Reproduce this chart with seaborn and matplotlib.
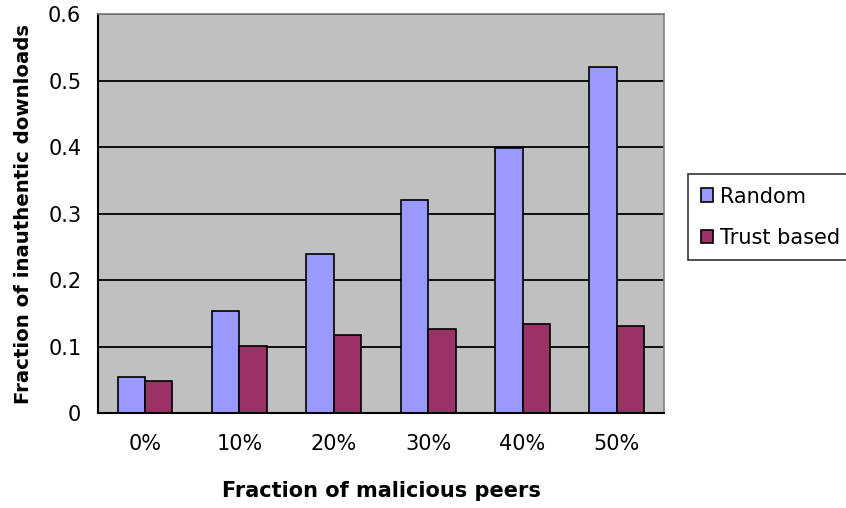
import matplotlib
matplotlib.use("Agg")
import matplotlib.pyplot as plt
import numpy as np
import pandas as pd
import seaborn as sns

# Fraction of inauthentic downloads by share of malicious peers
categories = ["0%", "10%", "20%", "30%", "40%", "50%"]
random_vals = [0.054, 0.153, 0.239, 0.321, 0.398, 0.520]
trust_vals = [0.048, 0.101, 0.117, 0.127, 0.134, 0.131]
series_names = ["Random", "Trust based"]
y_ticks = [0, 0.1, 0.2, 0.3, 0.4, 0.5, 0.6]
y_tick_labels = ["0", "0.1", "0.2", "0.3", "0.4", "0.5", "0.6"]

df = pd.DataFrame({
    "peers": categories * 2,
    "value": random_vals + trust_vals,
    "method": [series_names[0]] * len(categories) + [series_names[1]] * len(categories),
})

sns.set_style("white")
plt.rcParams["font.family"] = ["DejaVu Sans"]
plt.rcParams.update({
    "text.color": "black",
    "axes.labelcolor": "black",
    "xtick.color": "black",
    "ytick.color": "black",
    "xtick.labelcolor": "black",
    "ytick.labelcolor": "black",
})

fig = plt.figure(figsize=(8.46, 5.08), dpi=100)
ax = fig.add_axes([0.1158, 0.187, 0.7849 - 0.1158, 0.9724 - 0.187])
ax.set_facecolor("#C0C0C0")

sns.barplot(data=df, x="peers", y="value", hue="method", order=categories,
            hue_order=series_names, palette=["#9999FF", "#993366"],
            width=0.58, gap=0, edgecolor="black", linewidth=1.2,
            saturation=1, ax=ax, legend=True)

ax.set_ylim(0, 0.6)
ax.set_xlim(-0.5, len(categories) - 0.5)
ax.set_yticks(y_ticks)
ax.set_yticklabels(y_tick_labels)
ax.yaxis.grid(True, color="black", linewidth=1.3)
ax.xaxis.grid(False)
ax.set_axisbelow(True)

# category-boundary ticks on the x axis
ax.set_xticks(np.arange(-0.5, len(categories), 1.0), minor=True)
ax.tick_params(axis="x", which="major", length=0, pad=15, labelsize=15, labelcolor="black")
ax.tick_params(axis="x", which="minor", length=6, width=1.2, color="black", direction="out")
ax.tick_params(axis="y", which="major", length=6, width=1.2, color="black",
               direction="out", labelsize=15, pad=6, labelcolor="black")

for side in ["left", "bottom"]:
    ax.spines[side].set_color("black")
    ax.spines[side].set_linewidth(1.5)
for side in ["top", "right"]:
    ax.spines[side].set_visible(True)
    ax.spines[side].set_color("#808080")
    ax.spines[side].set_linewidth(1.2)

ax.set_xlabel("Fraction of malicious peers", fontsize=15, fontweight="bold", color="black")
ax.set_ylabel("Fraction of inauthentic downloads", fontsize=14.2, fontweight="bold", color="black")
ax.xaxis.set_label_coords(0.5, -0.170)
ax.yaxis.set_label_coords(-0.1155, 0.5)

handles, labels = ax.get_legend_handles_labels()
ax.legend_.remove()
leg = fig.legend(handles, labels, loc="upper left", bbox_to_anchor=(688 / 846, 1 - 174 / 508),
                 bbox_transform=fig.transFigure, borderaxespad=0, fancybox=False,
                 frameon=True, edgecolor="black", fontsize=15, handlelength=0.62,
                 handleheight=0.62, handletextpad=0.3, labelspacing=1.02,
                 borderpad=0.6, labelcolor="black")
leg.get_frame().set_linewidth(1.2)

fig.savefig("out.png", dpi=100, facecolor="white")
